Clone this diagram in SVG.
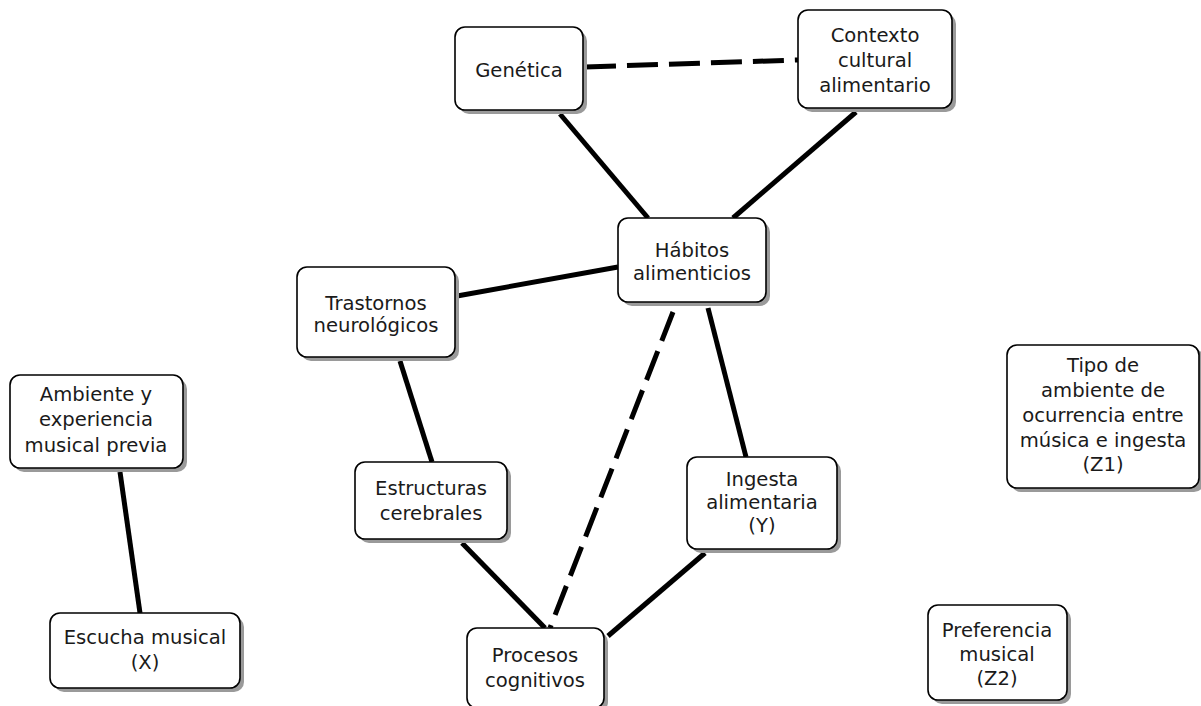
<svg xmlns="http://www.w3.org/2000/svg" width="1201" height="706" viewBox="0 0 1201 706">
<defs>
<style>
.box{fill:#fff;stroke:#000;stroke-width:1.6}
.sh{fill:#9a9a9a}
.t{font-family:"DejaVu Sans",Verdana,sans-serif;font-size:19.6px;fill:#1a1a1a;text-anchor:middle}
.c{stroke:#000;stroke-width:5;fill:none}
.d{stroke:#000;stroke-width:5;fill:none;stroke-dasharray:31 11}
</style>
</defs>
<rect width="1201" height="706" fill="#fff"/>
<g id="connectors">
<line class="d" x1="585" y1="67" x2="798" y2="60"/>
<line class="c" x1="560" y1="114" x2="648" y2="218"/>
<line class="c" x1="856" y1="112" x2="733" y2="218"/>
<line class="c" x1="457" y1="296" x2="618" y2="267"/>
<line class="c" x1="400" y1="361" x2="432" y2="462"/>
<line class="d" x1="673" y1="312" x2="550" y2="628"/>
<line class="c" x1="708" y1="308" x2="746" y2="457"/>
<line class="c" x1="462" y1="543" x2="545" y2="628"/>
<line class="c" x1="705" y1="553" x2="608" y2="636"/>
<line class="c" x1="120" y1="472" x2="140" y2="613"/>
</g>
<g id="genetica">
<rect class="sh" x="459" y="31" width="128" height="83" rx="10"/>
<rect class="box" x="455" y="27" width="128" height="83" rx="10"/>
<text class="t" x="519" y="77">Genética</text>
</g>
<g id="contexto">
<rect class="sh" x="802" y="14" width="154" height="98" rx="10"/>
<rect class="box" x="798" y="10" width="154" height="98" rx="10"/>
<text class="t" x="875" y="42">Contexto</text>
<text class="t" x="875" y="67">cultural</text>
<text class="t" x="875" y="92">alimentario</text>
</g>
<g id="habitos">
<rect class="sh" x="622" y="222" width="148" height="84" rx="10"/>
<rect class="box" x="618" y="218" width="148" height="84" rx="10"/>
<text class="t" x="692" y="257">Hábitos</text>
<text class="t" x="692" y="280">alimenticios</text>
</g>
<g id="trastornos">
<rect class="sh" x="301" y="271" width="158" height="90" rx="10"/>
<rect class="box" x="297" y="267" width="158" height="90" rx="10"/>
<text class="t" x="376" y="310">Trastornos</text>
<text class="t" x="376" y="332">neurológicos</text>
</g>
<g id="ambiente">
<rect class="sh" x="14" y="379" width="173" height="93" rx="10"/>
<rect class="box" x="10" y="375" width="173" height="93" rx="10"/>
<text class="t" x="96" y="401">Ambiente y</text>
<text class="t" x="96" y="426">experiencia</text>
<text class="t" x="96" y="452">musical previa</text>
</g>
<g id="escucha">
<rect class="sh" x="54" y="617" width="190" height="75" rx="10"/>
<rect class="box" x="50" y="613" width="190" height="75" rx="10"/>
<text class="t" x="145" y="644">Escucha musical</text>
<text class="t" x="145" y="669">(X)</text>
</g>
<g id="estructuras">
<rect class="sh" x="359" y="466" width="152" height="77" rx="10"/>
<rect class="box" x="355" y="462" width="152" height="77" rx="10"/>
<text class="t" x="431" y="495">Estructuras</text>
<text class="t" x="431" y="520">cerebrales</text>
</g>
<g id="procesos">
<rect class="sh" x="471" y="632" width="137" height="80" rx="10"/>
<rect class="box" x="467" y="628" width="137" height="80" rx="10"/>
<text class="t" x="535" y="662">Procesos</text>
<text class="t" x="535" y="687">cognitivos</text>
</g>
<g id="ingesta">
<rect class="sh" x="691" y="461" width="150" height="92" rx="10"/>
<rect class="box" x="687" y="457" width="150" height="92" rx="10"/>
<text class="t" x="762" y="486">Ingesta</text>
<text class="t" x="762" y="509">alimentaria</text>
<text class="t" x="762" y="532">(Y)</text>
</g>
<g id="tipo">
<rect class="sh" x="1011" y="349" width="193" height="143" rx="10"/>
<rect class="box" x="1007" y="345" width="192" height="143" rx="10"/>
<text class="t" x="1103" y="372">Tipo de</text>
<text class="t" x="1103" y="397">ambiente de</text>
<text class="t" x="1103" y="422">ocurrencia entre</text>
<text class="t" x="1103" y="447">música e ingesta</text>
<text class="t" x="1103" y="471">(Z1)</text>
</g>
<g id="preferencia">
<rect class="sh" x="932" y="609" width="139" height="95" rx="10"/>
<rect class="box" x="928" y="605" width="139" height="95" rx="10"/>
<text class="t" x="997" y="637">Preferencia</text>
<text class="t" x="997" y="661">musical</text>
<text class="t" x="997" y="685">(Z2)</text>
</g>
</svg>
